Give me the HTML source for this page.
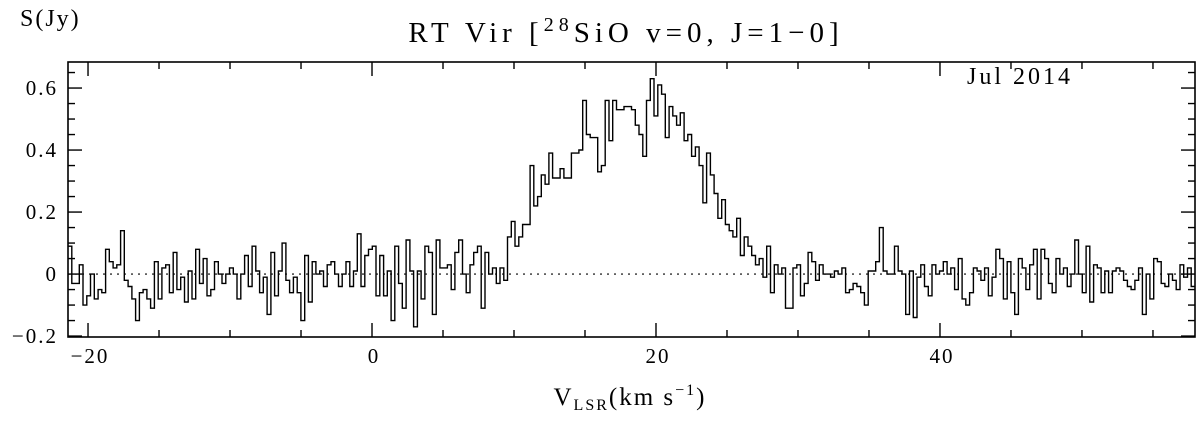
<!DOCTYPE html>
<html><head><meta charset="utf-8"><style>
html,body{margin:0;padding:0;background:#fff;}
svg text{font-family:"Liberation Serif",serif;fill:#000;}
</style></head><body>
<svg id="chart" width="1200" height="418" viewBox="0 0 1200 418" xmlns="http://www.w3.org/2000/svg">
<text x="626" y="42" font-size="29" letter-spacing="5" text-anchor="middle">RT Vir [<tspan dy="-11" font-size="20">28</tspan><tspan dy="11">SiO v=0, J=1−0]</tspan></text>
<text x="20" y="26" font-size="24" letter-spacing="2">S(Jy)</text>
<text x="967" y="84" font-size="24" letter-spacing="3">Jul 2014</text>
<text x="630" y="405" font-size="25" letter-spacing="2" text-anchor="middle">V<tspan font-size="16" dy="5">LSR</tspan><tspan dy="-5">(km s</tspan><tspan font-size="16" dy="-10">−1</tspan><tspan dy="10">)</tspan></text>
<g id="axes"></g>
<path id="spec" fill="none" stroke="#000" stroke-width="1.4"/>
</svg>
<script>
const xTicks=[-20,0,20,40];
const yTicks=[-0.2,0,0.2,0.4,0.6];
const yTickLabels=["−0.2","0","0.2","0.4","0.6"];
const vStart=-21.41, vEnd=57.96;
const flux=[0.09,-0.03,-0.03,0.03,-0.1,-0.07,0.0,-0.08,-0.05,-0.06,0.08,0.04,0.02,0.03,0.14,-0.02,-0.04,-0.08,-0.15,-0.06,-0.05,-0.08,-0.11,0.04,-0.08,0.02,0.03,-0.06,0.07,-0.05,-0.01,-0.09,0.01,-0.08,0.08,-0.03,0.05,-0.07,-0.05,0.04,0.0,-0.03,0.0,0.02,0.0,-0.08,0.0,0.06,-0.04,0.09,0.01,-0.06,-0.01,-0.13,0.07,-0.07,0.01,0.1,-0.02,-0.06,-0.01,-0.06,-0.15,0.06,-0.09,0.04,0.0,0.01,-0.04,0.03,0.04,0.0,-0.04,0.0,0.04,-0.04,0.01,
0.13,-0.04,0.06,0.08,0.09,-0.07,0.06,-0.07,0.01,-0.15,0.09,-0.03,-0.11,0.11,0.01,-0.17,0.01,-0.08,0.09,0.07,-0.13,0.11,0.02,0.02,0.03,-0.05,0.07,0.11,0.0,-0.06,0.03,0.07,0.09,-0.11,0.07,0.0,0.02,-0.03,0.02,-0.02,0.12,0.17,0.09,0.12,0.16,0.16,0.35,0.22,0.25,0.32,0.29,0.39,0.31,0.31,0.34,0.31,0.31,0.39,0.39,0.40,0.56,0.45,0.44,0.44,0.33,0.35,0.56,0.43,0.56,0.53,0.53,
0.54,0.54,0.53,0.48,0.45,0.38,0.56,0.63,0.51,0.61,0.58,0.44,0.54,0.51,0.48,0.52,0.43,0.45,0.38,0.41,0.35,0.23,0.39,0.32,0.26,0.18,0.24,0.16,0.14,0.12,0.18,0.06,0.12,0.09,0.06,0.03,0.05,-0.01,0.09,-0.06,0.03,0.0,0.02,-0.11,-0.11,0.02,0.03,-0.07,-0.03,0.07,0.04,-0.02,0.03,0.0,0.0,-0.01,0.01,0.0,0.02,-0.06,-0.05,-0.03,-0.04,-0.06,-0.1,0.01,0.01,0.04,0.15,0.01,0.0,0.0,0.09,0.01,0.0,-0.13,
0.01,-0.14,-0.01,0.03,-0.04,-0.07,0.03,0.0,0.01,0.04,0.0,0.02,-0.05,0.05,-0.08,-0.1,-0.06,0.02,0.01,-0.02,0.02,-0.07,-0.01,0.08,0.05,-0.08,0.04,-0.06,-0.13,0.05,0.02,-0.05,0.03,0.08,-0.08,0.08,0.05,-0.03,-0.06,0.05,0.0,0.02,-0.04,0.0,0.11,0.0,-0.06,0.09,-0.09,0.03,0.02,-0.06,0.01,-0.06,0.01,0.02,0.01,-0.02,-0.04,-0.05,-0.02,0.02,-0.13,0.0,-0.08,0.05,0.04,-0.03,-0.04,0.0,-0.02,-0.05,0.03,-0.01,0.02,-0.04];

const L=68,R=1195,T=62,B=337,yMin=-0.203,yMax=0.684;
const X=v=>L+(v-vStart)/(vEnd-vStart)*(R-L);
const Y=s=>B-(s-yMin)/(yMax-yMin)*(B-T);
const NS="http://www.w3.org/2000/svg";
const ax=document.getElementById('axes');
function mk(tag,attrs){const e=document.createElementNS(NS,tag);for(const k in attrs)e.setAttribute(k,attrs[k]);ax.appendChild(e);return e;}
const frame=mk('rect',{x:L,y:T,width:R-L,height:B-T,fill:'none',stroke:'#000','stroke-width':1.6});


const zl=mk('line',{x1:L,x2:R,y1:Y(0),y2:Y(0),stroke:'#000','stroke-width':1.2,'stroke-dasharray':'2,5'});


for(let v=-20;v<=55;v+=5){
  const maj=xTicks.includes(v), len=maj?14:7;
  const t1=mk('line',{x1:X(v),x2:X(v),y1:B,y2:B-len,stroke:'#000','stroke-width':1.4});
  
  
  mk('line',{x1:X(v),x2:X(v),y1:T,y2:T+len,stroke:'#000','stroke-width':1.4});
}
xTicks.forEach(v=>{
  const t=mk('text',{x:X(v)+2,y:B+26,'font-size':21,'letter-spacing':2,'text-anchor':'middle'});t.textContent=v<0?'−'+(-v):String(v);
  
  
});
for(let i=-4;i<=13;i++){
  const s=i*0.05, maj=(i%4===0), len=maj?14:7;
  const t1=mk('line',{x1:L,x2:L+len,y1:Y(s),y2:Y(s),stroke:'#000','stroke-width':1.4});
  
  
  mk('line',{x1:R,x2:R-len,y1:Y(s),y2:Y(s),stroke:'#000','stroke-width':1.4});
}
yTicks.forEach((s,i)=>{
  const t=mk('text',{x:L-10,y:Y(s)+7,'font-size':21,'letter-spacing':2,'text-anchor':'end'});t.textContent=yTickLabels[i];
  
  
});
const dv=(vEnd-vStart)/flux.length;
let d='';
flux.forEach((f,i)=>{
  const x0=X(vStart+i*dv),x1=X(vStart+(i+1)*dv),y=Y(f);
  d+=(i===0?'M':'L')+x0.toFixed(1)+','+y.toFixed(1)+'L'+x1.toFixed(1)+','+y.toFixed(1);
});
document.getElementById('spec').setAttribute('d',d);
</script>
</body></html>
